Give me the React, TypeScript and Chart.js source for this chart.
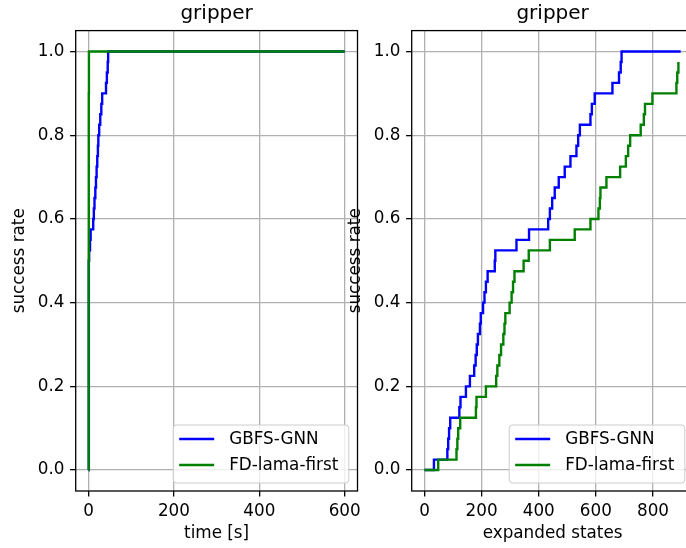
import React, { useEffect, useRef } from "react";
import { Chart, registerables } from "chart.js";

Chart.register(...registerables);

const FONT = "'DejaVu Sans', sans-serif";
const FS = 16.8;

// ---- data: left panel (time [s]) ----
const timeGBFS = [0, 0.8, 1.5, 3.5, 5, 11, 12.5, 14, 16, 17.5, 19, 20.5, 22, 23, 25, 27.5, 30, 32, 41, 43, 45, 46, 600];
const rateTimeGBFS = [0, 0.5, 0.525, 0.55, 0.575, 0.6, 0.625, 0.65, 0.675, 0.7, 0.725, 0.75, 0.775, 0.8, 0.825, 0.85, 0.875, 0.9, 0.925, 0.95, 0.975, 1.0, 1.0];
const timeFD = [0, 0.3, 0.6, 1, 600];
const rateTimeFD = [0, 0.5, 0.9, 1.0, 1.0];

// ---- data: right panel (expanded states) ----
const statesGBFS = [0, 33, 80, 83, 86, 90, 122, 126, 145, 159, 174, 179, 183, 187, 194, 197, 205, 210, 215, 221, 246, 248, 322, 366, 433, 439, 447, 456, 470, 491, 511, 532, 538, 544, 581, 586, 596, 658, 681, 687, 690, 897];
const rateStatesGBFS = [0, 0.025, 0.05, 0.075, 0.1, 0.125, 0.15, 0.175, 0.2, 0.225, 0.25, 0.275, 0.3, 0.325, 0.35, 0.375, 0.4, 0.425, 0.45, 0.475, 0.5, 0.525, 0.55, 0.575, 0.6, 0.625, 0.65, 0.675, 0.7, 0.725, 0.75, 0.775, 0.8, 0.825, 0.85, 0.875, 0.9, 0.925, 0.95, 0.975, 1.0, 1.0];
const statesFD = [0, 48, 112, 115, 118, 125, 180, 182, 215, 251, 255, 262, 268, 276, 280, 283, 298, 305, 310, 315, 347, 365, 439, 526, 581, 609, 614, 616, 637, 685, 705, 713, 720, 757, 768, 772, 798, 882, 885, 889];
const rateStatesFD = [0, 0.025, 0.05, 0.075, 0.1, 0.125, 0.15, 0.175, 0.2, 0.225, 0.25, 0.275, 0.3, 0.325, 0.35, 0.375, 0.4, 0.425, 0.45, 0.475, 0.5, 0.525, 0.55, 0.575, 0.6, 0.625, 0.65, 0.675, 0.7, 0.725, 0.75, 0.775, 0.8, 0.825, 0.85, 0.875, 0.9, 0.925, 0.95, 0.975];

// ---- ticks / labels ----
const yTicks = [0, 0.2, 0.4, 0.6, 0.8, 1.0];
const timeTicks = [0, 200, 400, 600];
const statesTicks = [0, 200, 400, 600, 800];
const seriesNames = ["GBFS-GNN", "FD-lama-first"];
const seriesColors = ["#0000ff", "#008000"];
const panelTitle = "gripper";
const yLabel = "success rate";

const CANVAS_W = 380;
const CANVAS_H = 548;
const AREA = { left: 75.7, right: 357.5, top: 30.6, bottom: 491 };

function toPts(xs: number[], ys: number[]) {
  return xs.map((x, i) => ({ x, y: ys[i] }));
}

const decorPlugin = {
  id: "decor",
  afterDraw(chart: any, _args: any, opts: any) {
    const ctx = chart.ctx as CanvasRenderingContext2D;
    const a = chart.chartArea;
    ctx.save();
    // spines
    ctx.strokeStyle = "#000";
    ctx.lineWidth = 1.3;
    ctx.strokeRect(a.left, a.top, a.right - a.left, a.bottom - a.top);
    // title & labels
    ctx.fillStyle = "#000";
    ctx.textAlign = "center";
    ctx.textBaseline = "middle";
    ctx.font = `20px ${FONT}`;
    ctx.fillText(opts.title, (a.left + a.right) / 2, 14);
    ctx.font = `${FS}px ${FONT}`;
    ctx.fillText(opts.xlabel, (a.left + a.right) / 2, 534);
    ctx.save();
    ctx.translate(20, (a.top + a.bottom) / 2);
    ctx.rotate(-Math.PI / 2);
    ctx.fillText(opts.ylabel, 0, 0);
    ctx.restore();
    // legend
    const w = 175.6;
    const h = 58;
    const right = a.right - 8.7;
    const bottom = a.bottom - 8;
    const left = right - w;
    const top = bottom - h;
    const r = 3.2;
    ctx.beginPath();
    ctx.moveTo(left + r, top);
    ctx.lineTo(right - r, top);
    ctx.arcTo(right, top, right, top + r, r);
    ctx.lineTo(right, bottom - r);
    ctx.arcTo(right, bottom, right - r, bottom, r);
    ctx.lineTo(left + r, bottom);
    ctx.arcTo(left, bottom, left, bottom - r, r);
    ctx.lineTo(left, top + r);
    ctx.arcTo(left, top, left + r, top, r);
    ctx.closePath();
    ctx.fillStyle = "rgba(255,255,255,0.8)";
    ctx.fill();
    ctx.strokeStyle = "#cccccc";
    ctx.lineWidth = 1;
    ctx.stroke();
    ctx.textAlign = "left";
    ctx.font = `${FS}px ${FONT}`;
    seriesNames.forEach((name, i) => {
      const y = top + 14 + i * 26;
      ctx.strokeStyle = seriesColors[i];
      ctx.lineWidth = 2.4;
      ctx.beginPath();
      ctx.moveTo(left + 6, y);
      ctx.lineTo(left + 41, y);
      ctx.stroke();
      ctx.fillStyle = "#000";
      ctx.fillText(name, left + 56, y + 1);
    });
    ctx.restore();
  },
};

function makeConfig(
  seriesA: { x: number; y: number }[],
  seriesB: { x: number; y: number }[],
  xMin: number,
  xMax: number,
  xTicks: number[],
  xlabel: string
): any {
  return {
    type: "line",
    data: {
      datasets: [
        {
          label: seriesNames[0],
          data: seriesA,
          borderColor: seriesColors[0],
          borderWidth: 2.4,
          pointRadius: 0,
          stepped: true,
          fill: false,
          order: 1,
        },
        {
          label: seriesNames[1],
          data: seriesB,
          borderColor: seriesColors[1],
          borderWidth: 2.4,
          pointRadius: 0,
          stepped: true,
          fill: false,
          order: 0,
        },
      ],
    },
    options: {
      responsive: false,
      animation: false,
      devicePixelRatio: 1,
      events: [],
      layout: {
        padding: { left: 0, right: CANVAS_W - AREA.right, top: AREA.top, bottom: 0 },
      },
      plugins: {
        legend: { display: false },
        title: { display: false },
        tooltip: { enabled: false },
        decor: { title: panelTitle, xlabel, ylabel: yLabel },
      },
      scales: {
        x: {
          type: "linear",
          min: xMin,
          max: xMax,
          afterFit: (s: any) => {
            s.height = CANVAS_H - AREA.bottom;
          },
          afterBuildTicks: (s: any) => {
            s.ticks = xTicks.map((v) => ({ value: v }));
          },
          grid: {
            color: "#b0b0b0",
            lineWidth: 1.3,
            tickColor: "#000",
            tickWidth: 1.3,
            tickLength: 5.6,
            drawTicks: true,
          },
          border: { display: false },
          ticks: {
            padding: 5,
            color: "#000",
            font: { family: FONT, size: FS },
            maxRotation: 0,
            autoSkip: false,
            callback: (v: any) => String(v),
          },
        },
        y: {
          type: "linear",
          min: -0.05,
          max: 1.05,
          afterFit: (s: any) => {
            s.width = AREA.left;
          },
          afterBuildTicks: (s: any) => {
            s.ticks = yTicks.map((v) => ({ value: v }));
          },
          grid: {
            color: "#b0b0b0",
            lineWidth: 1.3,
            tickColor: "#000",
            tickWidth: 1.3,
            tickLength: 5.6,
            drawTicks: true,
          },
          border: { display: false },
          ticks: {
            padding: 5.6,
            color: "#000",
            font: { family: FONT, size: FS },
            autoSkip: false,
            callback: (v: any) => Number(v).toFixed(1),
          },
        },
      },
    },
    plugins: [decorPlugin],
  };
}

export default function App() {
  const leftRef = useRef<HTMLCanvasElement | null>(null);
  const rightRef = useRef<HTMLCanvasElement | null>(null);

  useEffect(() => {
    const c1 = new Chart(
      leftRef.current as HTMLCanvasElement,
      makeConfig(toPts(timeGBFS, rateTimeGBFS), toPts(timeFD, rateTimeFD), -30, 630, timeTicks, "time [s]")
    );
    const sMax = 897;
    const c2 = new Chart(
      rightRef.current as HTMLCanvasElement,
      makeConfig(
        toPts(statesGBFS, rateStatesGBFS),
        toPts(statesFD, rateStatesFD),
        -0.05 * sMax,
        1.05 * sMax,
        statesTicks,
        "expanded states"
      )
    );
    return () => {
      c1.destroy();
      c2.destroy();
    };
  }, []);

  return (
    <div
      style={{
        position: "fixed",
        left: 0,
        top: 0,
        width: 686,
        height: 548,
        overflow: "hidden",
        background: "#fff",
      }}
    >
      <canvas
        ref={leftRef}
        width={CANVAS_W}
        height={CANVAS_H}
        style={{ position: "absolute", left: 0, top: 0, width: CANVAS_W, height: CANVAS_H }}
      />
      <canvas
        ref={rightRef}
        width={CANVAS_W}
        height={CANVAS_H}
        style={{ position: "absolute", left: 336.3, top: 0, width: CANVAS_W, height: CANVAS_H }}
      />
    </div>
  );
}
